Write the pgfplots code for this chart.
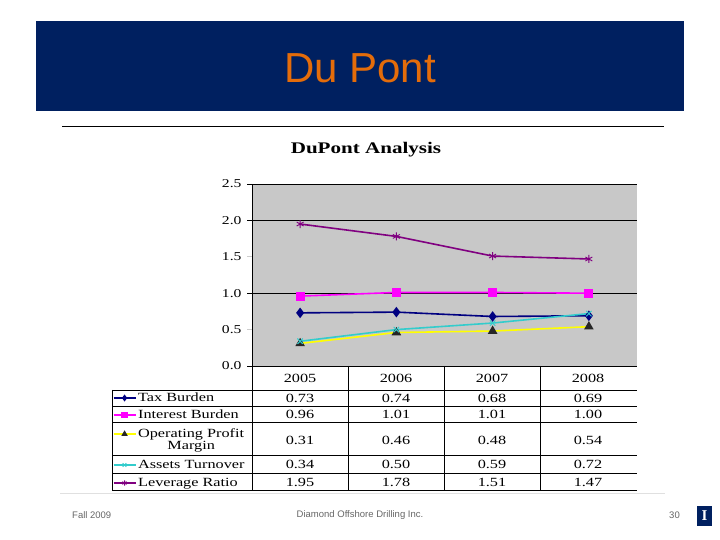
\documentclass[border=0pt]{standalone}
\usepackage{fontspec}
\usepackage{pgfplots}
\pgfplotsset{compat=1.18}
\setmainfont{Liberation Serif}
\newfontfamily\cf[FakeStretch=1.3]{Liberation Serif}
\newfontfamily\slidefont{Liberation Sans}
\definecolor{navy}{RGB}{0,32,96}
\definecolor{ttl}{RGB}{228,108,10}
\definecolor{plotbg}{RGB}{200,200,200}
\definecolor{taxc}{RGB}{0,0,128}
\definecolor{intc}{RGB}{255,0,255}
\definecolor{opmc}{RGB}{255,255,0}
\definecolor{atc}{RGB}{51,204,204}
\definecolor{lrc}{RGB}{128,0,128}
\begin{document}
\begin{tikzpicture}[x=1pt,y=1pt]
\path[use as bounding box] (0,0) rectangle (720,540);
% banner
\fill[navy] (36,429) rectangle (684,519);
\node[anchor=base, text=ttl, font=\slidefont\fontsize{42}{42}\selectfont, inner sep=0pt] at (360,457) {Du Pont};
\draw[black, line width=1pt] (62,413) -- (664,413);
% chart title
\node[anchor=base, font=\cf\bfseries\fontsize{16.2}{16}\selectfont, inner sep=0pt] at (366,386) {DuPont Analysis};
\begin{axis}[
  at={(252pt,174pt)}, anchor=south west,
  scale only axis, width=385pt, height=182pt,
  xmin=-0.5, xmax=3.5, ymin=0, ymax=2.5,
  axis x line*=bottom, axis y line*=left,
  axis line style={-, black, line width=0.8pt},
  axis background/.style={fill=plotbg},
  xtick=\empty,
  ytick={0,1,2,2.5},
  ymajorgrids,
  tick align=outside, major tick length=5pt,
  tick style={black, line width=0.6pt},
  yticklabel style={font=\cf\fontsize{12}{12}\selectfont, xshift=-2pt},
  /pgf/number format/assume math mode=true,
  /pgf/number format/.cd, fixed, fixed zerofill, precision=1, /pgfplots/.cd,
  extra y ticks={0.5,1.5},
  extra y tick style={grid=none, tick style={black!20, line width=0.6pt}},
  major grid style={black, line width=0.8pt},
  legend image code/.code={\draw[mark repeat=2,mark phase=2,#1] plot coordinates {(0pt,0pt) (11pt,0pt) (22pt,0pt)};},
  legend image post style={yshift=3pt, mark size=2.6pt, line width=1.1pt},
  legend style={at={(-0.361,-0.1319)}, anchor=north west, draw=none, fill=none,
    inner sep=0pt, outer sep=0pt, row sep=0pt,
    font=\cf\fontsize{12.5}{13.5}\selectfont,
    nodes={inner sep=0pt, outer sep=0pt, text depth=, text height=},
    cells={anchor=base west},
    /tikz/every odd column/.style={column sep=2pt}},
]
\addplot[taxc, line width=1.6pt, mark=diamond*, mark size=4pt, mark options={fill=taxc, solid}]
  coordinates {(0,0.73) (1,0.74) (2,0.68) (3,0.69)};
\addlegendentry{\rule[-5pt]{0pt}{16pt}Tax Burden}
\addplot[intc, line width=1.6pt, mark=square*, mark size=3.8pt, mark options={fill=intc, solid}]
  coordinates {(0,0.96) (1,1.01) (2,1.01) (3,1.00)};
\addlegendentry{\rule[-4pt]{0pt}{16pt}Interest Burden}
\addplot[opmc, line width=1.6pt, mark=triangle*, mark size=4pt, mark options={fill=black!85, draw=black!85, solid}]
  coordinates {(0,0.31) (1,0.46) (2,0.48) (3,0.54)};
\addlegendentry{\rule[-18pt]{0pt}{33pt}{\begin{tabular}[t]{@{}c@{}}Operating Profit\\[-1pt]Margin\end{tabular}}}
\addplot[atc, line width=1.6pt, mark=x, mark size=3.8pt, mark options={solid, line width=0.9pt}]
  coordinates {(0,0.34) (1,0.50) (2,0.59) (3,0.72)};
\addlegendentry{\rule[-5pt]{0pt}{18pt}Assets Turnover}
\addplot[lrc, line width=1.6pt, mark=asterisk, mark size=4pt, mark options={solid, line width=0.9pt}]
  coordinates {(0,1.95) (1,1.78) (2,1.51) (3,1.47)};
\addlegendentry{\rule[-4pt]{0pt}{17pt}Leverage Ratio}
\end{axis}
% data table grid
\begin{scope}[line width=0.8pt]
\draw (112,150) -- (637,150);
\draw (112,134) -- (637,134);
\draw (112,118) -- (637,118);
\draw (112,85) -- (637,85);
\draw (112,67) -- (637,67);
\draw (112,50) -- (637,50);
\draw (112,150) -- (112,50);
\draw (252,174) -- (252,50);
\draw (348,174) -- (348,50);
\draw (444,174) -- (444,50);
\draw (540,174) -- (540,50);
\end{scope}
\draw[black!12, line width=0.8pt] (60,47) -- (665,47);
\begin{scope}[every node/.style={font=\cf\fontsize{12.5}{13}\selectfont, inner sep=0pt}]
\node at (300,162) {2005}; \node at (396,162) {2006}; \node at (492,162) {2007}; \node at (588,162) {2008};
\node at (300,142) {0.73}; \node at (396,142) {0.74}; \node at (492,142) {0.68}; \node at (588,142) {0.69};
\node at (300,126) {0.96}; \node at (396,126) {1.01}; \node at (492,126) {1.01}; \node at (588,126) {1.00};
\node at (300,100) {0.31}; \node at (396,100) {0.46}; \node at (492,100) {0.48}; \node at (588,100) {0.54};
\node at (300,76) {0.34}; \node at (396,76) {0.50}; \node at (492,76) {0.59}; \node at (588,76) {0.72};
\node at (300,58) {1.95}; \node at (396,58) {1.78}; \node at (492,58) {1.51}; \node at (588,58) {1.47};
\end{scope}
% footer
\begin{scope}[every node/.style={font=\slidefont\fontsize{9.5}{10}\selectfont, text=black!60, inner sep=0pt}]
\node[anchor=west] at (72,25) {Fall 2009};
\node at (360,25) {Diamond Offshore Drilling Inc.};
\node[anchor=east] at (680,25) {30};
\end{scope}
\fill[navy] (697,14) rectangle (712,34);
\node[text=white, font=\bfseries\fontsize{15}{15}\selectfont, inner sep=0pt] at (704.5,24) {I};
\end{tikzpicture}
\end{document}
